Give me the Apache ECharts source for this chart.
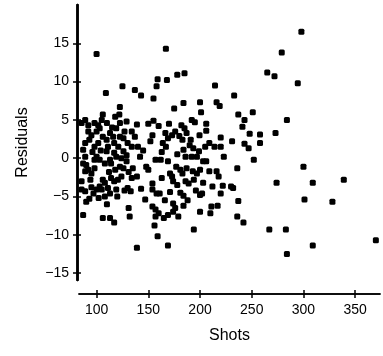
<!DOCTYPE html>
<html>
<head>
<meta charset="utf-8">
<script src="https://cdn.jsdelivr.net/npm/echarts@6/dist/echarts.min.js"></script>
<style>
html,body{margin:0;padding:0;background:#fff;}
#chart{width:383px;height:356px;}
</style>
</head>
<body>
<div id="chart"></div>
<script>
var xTicks = [100, 150, 200, 250, 300, 350];
var yTicks = [-15, -10, -5, 0, 5, 10, 15];

var shots = [
100,167,298,279,265,272,294.5,284,273,300,309,339,274,301,328,267,283,284,309,370,
252,236,237,236,242,230,233,251,237,243,241,248,258,258,243,247,231,223,214.5,216,
219,200,201,206,206,220,220,214,209,205,203,216,218,209,222,220,232,212,203,202,
200,211,217,210,200,194,200,206,
159,168,178,185,158,155,175,184,155,160,154,166.5,169,164,167,176,173,182,185,180,
183,192,195,187,191,199.5,199,193.5,190,184,186,192,197,157,162,148,150,169,177,171,
173,181,183,187,193,197,174,178,186,189,194,163,154,154,158,161,171,181,184,174,
154,157,160,157,165,169,174,179,184,156,159,169,139,147,143,
109,125,137,143,122.5,122,139,129,134,137,140,134,142,135,134,139,130,131,132,117,
106,113,110,87,90,93,85.5,89,85.5,97,100,103,105,106,108,111,113,119,114,117,
120.6,124,122.6,126,129,129,124,126,119,117,109.7,111,117,121,116,113,109.7,106,101.6,98,
95,93,89,87,89,90,92,87,89,95,94,85.5,89,92,98,101.6,105,106,100,103,
110,119,122.6,122.6,126,127,113,114,108,100,103,98,
96,104,112,118,120,127,133,95,102,108,115,118,130,131,92,98,
145,152,163,170,178,188,196,166,176,150
];
var residuals = [
13.6,14.3,16.5,13.8,11.2,10.7,9.8,5,3.3,-1.1,-3.2,-2.8,-3.2,-5.4,-5.7,-9.3,-9.3,-12.5,-11.4,-10.7,
-0.2,-1.3,-5.6,-7.6,-8.4,-3.7,8.2,6,5.7,5,4.1,3.2,3.1,2.0,1.9,1.3,2.2,0.2,9.5,7.3,
6.8,7.3,6,4.5,3.6,2.7,1.5,1.5,2.0,1.5,-0.4,-1.7,-2.4,-1.7,-3.6,-4.6,-3.9,-3.7,-3.2,-4.6,
-4.8,-6.3,-6.2,-7.2,-7.0,-9.3,-1.5,-0.4,
10.3,10.2,10.9,11.1,9.4,7.8,6.5,7.2,4.9,4.2,3.0,3.3,2.6,2.0,1.5,3.5,3.0,4.3,3.9,2.9,
2.4,5.0,4.7,3.3,2.4,3.0,0.9,1.3,1.7,1.1,0.2,0.2,0.2,-0.2,-0.2,-1.1,-1.5,-0.4,-1.1,-2.0,
-2.4,-1.5,-2.0,-1.3,-1.7,-2.0,-3.0,-3.5,-3.0,-3.3,-2.8,-2.6,-3.3,-4.1,-4.6,-4.6,-4.4,-4.5,-4.9,-5.9,
-6.3,-6.7,-7.2,-7.6,-7.8,-7.4,-7.0,-7.6,-6.2,-8.8,-10.2,-11.4,-11.7,-5.4,-4.0,
8.5,9.4,8.9,8.2,6.7,5.7,4.4,4.8,3.5,2.8,1.5,1.5,0.2,-1.3,-2.6,-2.4,-3.9,-6.5,-7.6,-8.4,
-7.8,-7.8,-6.0,-7.4,-5.7,-5.3,-4.1,-4.3,-3.0,-4.6,-4.1,-3.7,-4.1,-2.8,-3.2,-3.9,-4.6,-4.1,-2.6,-3.0,
-2.8,-2.4,-1.1,-1.3,-0.4,0.4,0,0.9,0.2,0.7,0.9,1.5,2.0,1.5,2.8,3.3,2.4,2.8,2.0,1.5,
3.0,2.4,2.0,1.1,0.2,-0.9,-1.5,-0.7,-1.7,-2.0,-2.8,4.6,5.0,4.3,4.6,4.3,5,5.7,3.5,3.9,
4.6,3.9,4.6,2.8,2.6,3.5,-0.2,-0.7,-0.7,0.2,-0.2,-1.3,
0.8,1.0,-1.8,-1.5,-5,-4.2,-4.3,-3.8,-5.2,-5.0,4.0,5.4,2.0,-1.8,3.5,-0.2,
1.0,2.2,0.8,4.5,0.5,-5.5,-4.2,-5.5,-6.5,4.5
];

var points = shots.map(function (s, i) { return [s, residuals[i]]; });

var FONT = '"Liberation Sans", Arial, sans-serif';
function minusFmt(v) { return String(v).replace('-', '\u2212'); }

var xBase = {
  type: 'value', min: 83, max: 374, position: 'bottom', offset: 14,
  splitLine: { show: false },
  axisLine: { show: true, onZero: false, lineStyle: { color: '#000', width: 1.5 } }
};
var yBase = {
  type: 'value', min: -15.9, max: 20, position: 'left', offset: 2,
  splitLine: { show: false },
  axisLine: { show: true, onZero: false, lineStyle: { color: '#000', width: 2.5 } }
};

var option = {
  backgroundColor: '#fff',
  animation: false,
  grid: { left: 79, right: 3, top: 5, bottom: 76 },
  xAxis: [
    Object.assign({}, xBase, {
      axisTick: { show: true, inside: false, length: 4, customValues: xTicks, lineStyle: { color: '#000', width: 1.5 } },
      axisLabel: { show: true, customValues: xTicks, color: '#000', fontSize: 14, fontFamily: FONT, margin: 9 },
      name: 'Shots', nameLocation: 'middle', nameGap: 34,
      nameTextStyle: { color: '#000', fontSize: 16, fontFamily: FONT }
    }),
    Object.assign({}, xBase, {
      axisTick: { show: true, inside: true, length: 4, customValues: xTicks, lineStyle: { color: '#000', width: 1.5 } },
      axisLabel: { show: false }
    })
  ],
  yAxis: [
    Object.assign({}, yBase, {
      axisTick: { show: true, inside: false, length: 4, customValues: yTicks, lineStyle: { color: '#000', width: 1.5 } },
      axisLabel: { show: true, customValues: yTicks, color: '#000', fontSize: 14, fontFamily: FONT, margin: 8, formatter: minusFmt },
      name: 'Residuals', nameLocation: 'middle', nameGap: 46, nameRotate: 90,
      nameTextStyle: { color: '#000', fontSize: 16, fontFamily: FONT }
    }),
    Object.assign({}, yBase, {
      axisTick: { show: true, inside: true, length: 4, customValues: yTicks, lineStyle: { color: '#000', width: 1.5 } },
      axisLabel: { show: false }
    })
  ],
  series: [{
    type: 'scatter',
    xAxisIndex: 0, yAxisIndex: 0,
    data: points,
    symbol: 'roundRect',
    symbolSize: 6,
    itemStyle: { color: '#000', opacity: 1 }
  }]
};

var chart = echarts.init(document.getElementById('chart'), null, { renderer: 'canvas' });
chart.setOption(option);
</script>
</body>
</html>
